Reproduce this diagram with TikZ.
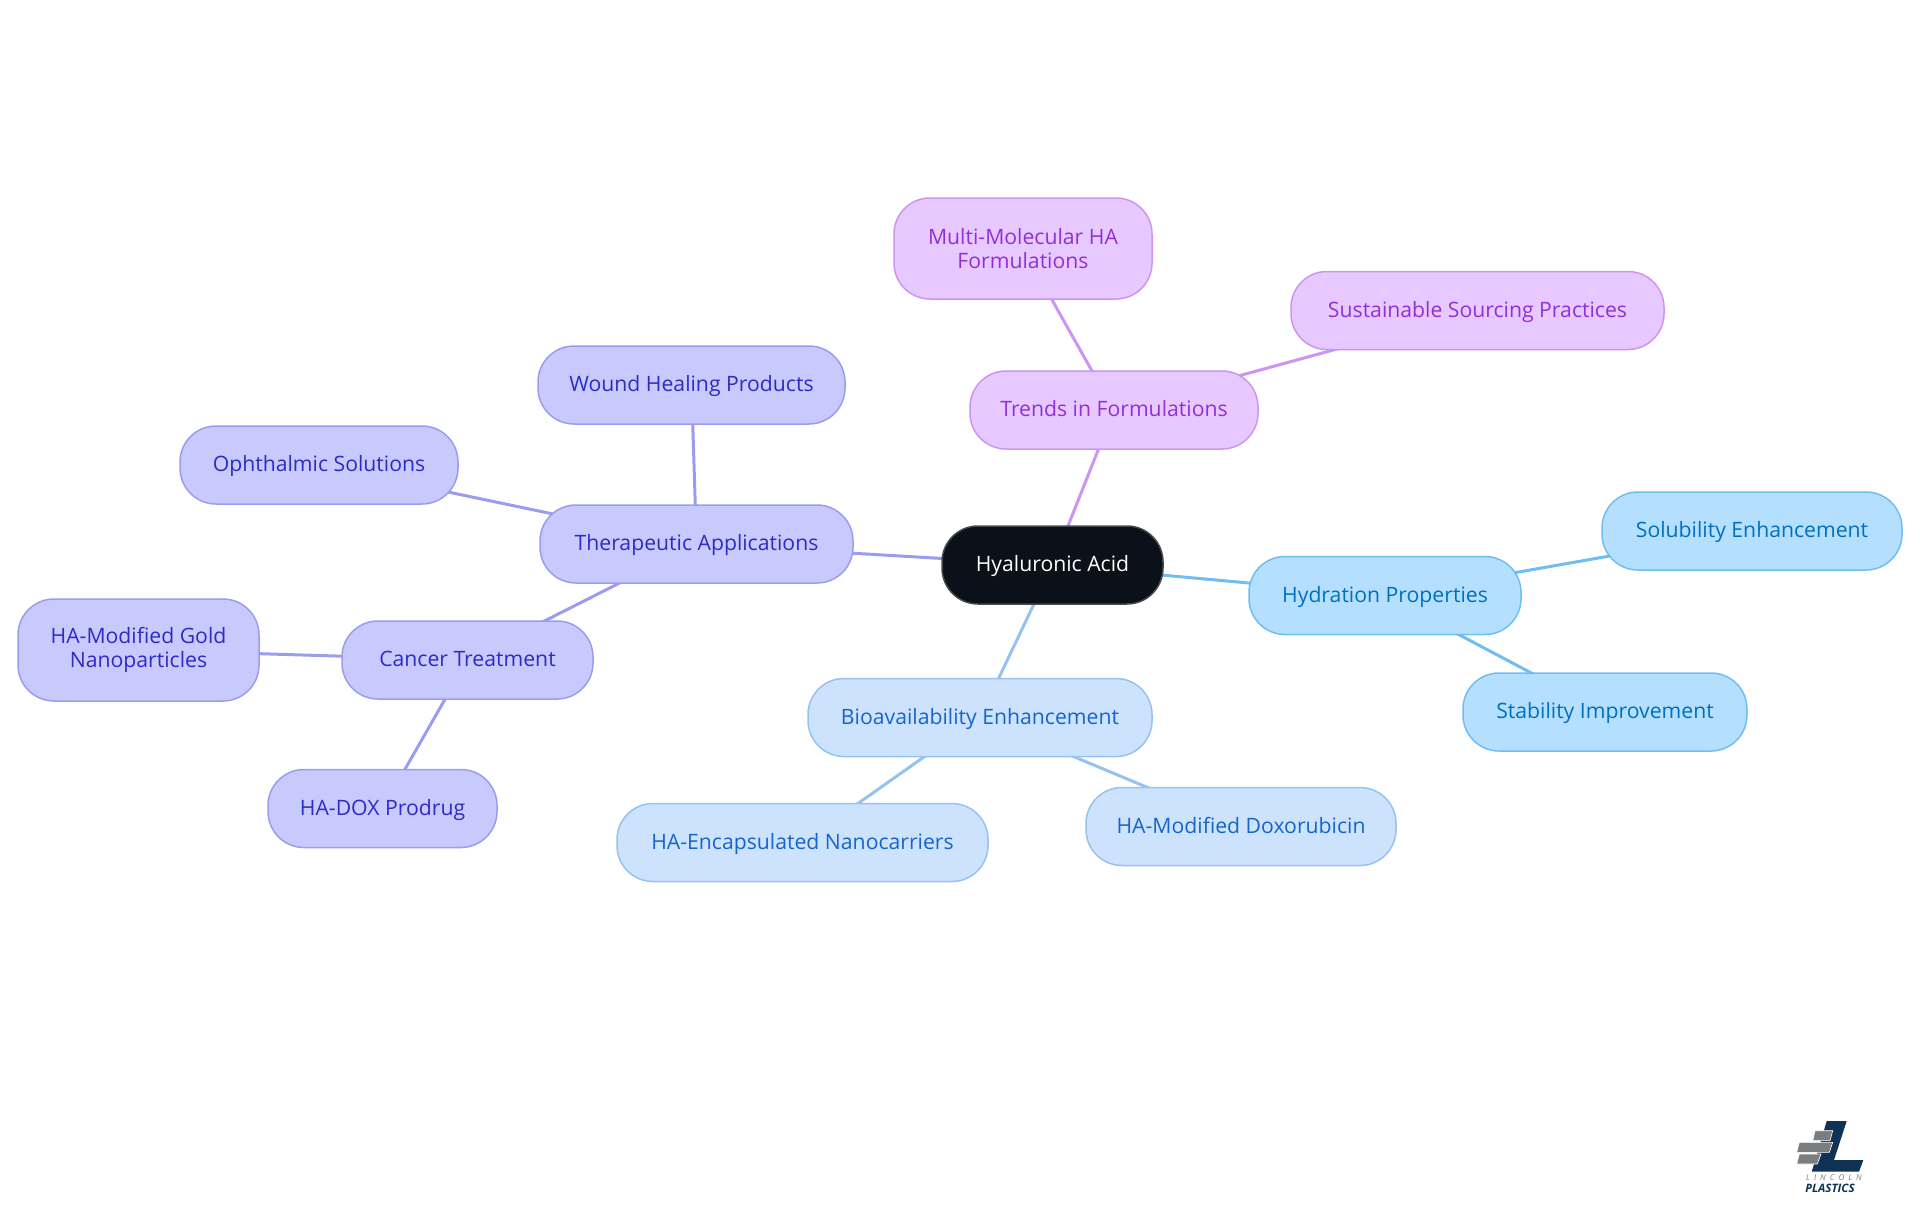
\documentclass[tikz,border=0pt]{standalone}
\usepackage{fontspec}
\setmainfont{Open Sans}
\usepackage{tikz}
\usetikzlibrary{
	backgrounds
}

\definecolor{rootfill}{HTML}{0B1119}
\definecolor{rootline}{HTML}{45494E}
\definecolor{therfill}{HTML}{C8C9FD}
\definecolor{therline}{HTML}{9A9CF0}
\definecolor{thertext}{HTML}{2E2BC6}
\definecolor{trendfill}{HTML}{E8C9FF}
\definecolor{trendline}{HTML}{CC95F2}
\definecolor{trendtext}{HTML}{9030D8}
\definecolor{hydrofill}{HTML}{B5DFFF}
\definecolor{hydroline}{HTML}{70BDF2}
\definecolor{hydrotext}{HTML}{0070C0}
\definecolor{biofill}{HTML}{CDE3FD}
\definecolor{bioline}{HTML}{95C2F0}
\definecolor{biotext}{HTML}{1565CC}
\definecolor{logonavy}{HTML}{0F3257}
\definecolor{logogrey}{HTML}{7B7D80}

\tikzset{
	topic/.style={rounded corners=18pt,draw,line width=.75pt,inner sep=0pt,minimum height=39pt,
		align=center,font=\fontsize{10.6}{12}\selectfont},
	oneline/.style={text height=9.5pt,text depth=2.8pt},
	rootnode/.style={topic,fill=rootfill,draw=rootline,text=white},
	thernode/.style={topic,fill=therfill,draw=therline,text=thertext},
	trendnode/.style={topic,fill=trendfill,draw=trendline,text=trendtext},
	hydronode/.style={topic,fill=hydrofill,draw=hydroline,text=hydrotext},
	bionode/.style={topic,fill=biofill,draw=bioline,text=biotext},
	link/.style={line width=1.5pt},
	brick/.style={fill=logogrey,draw=white,line width=.3pt}
}

\begin{document}
\begin{tikzpicture}[x=.5pt,y=-.5pt]
	\useasboundingbox (0,0) rectangle (1920,1215);

	\draw
		node[rootnode,oneline,minimum width=110.5pt]  (ha)   at (1052.5,565)  {Hyaluronic Acid}

		node[thernode,oneline,minimum width=156.5pt]  (ther) at (696.5,544)   {Therapeutic Applications}
		node[thernode,oneline,minimum width=153.5pt]  (wound) at (691.5,385)  {Wound Healing Products}
		node[thernode,oneline,minimum width=139pt]    (oph)  at (319,465)     {Ophthalmic Solutions}
		node[thernode,oneline,minimum width=125.5pt]  (canc) at (467.5,660)   {Cancer Treatment}
		node[thernode,minimum width=120.5pt,minimum height=51pt] (gold) at (138.5,650) {HA-Modified Gold\\Nanoparticles}
		node[thernode,oneline,minimum width=114.5pt]  (dox)  at (382.5,808.5) {HA-DOX Prodrug}

		node[trendnode,oneline,minimum width=144pt]   (trend) at (1114,410)   {Trends in Formulations}
		node[trendnode,minimum width=129pt,minimum height=50.5pt] (multi) at (1023,248.5) {Multi-Molecular HA\\Formulations}
		node[trendnode,oneline,minimum width=186.5pt] (sust) at (1477.5,310.5) {Sustainable Sourcing Practices}

		node[hydronode,oneline,minimum width=136pt]   (hydro) at (1385,595.5) {Hydration Properties}
		node[hydronode,oneline,minimum width=150pt]   (sol)  at (1752,531)    {Solubility Enhancement}
		node[hydronode,oneline,minimum width=142pt]   (stab) at (1605,712)    {Stability Improvement}

		node[bionode,oneline,minimum width=172pt]     (bio)  at (980,717.5)   {Bioavailability Enhancement}
		node[bionode,oneline,minimum width=185.5pt]   (enc)  at (802.5,842.5) {HA-Encapsulated Nanocarriers}
		node[bionode,oneline,minimum width=155pt]     (mdox) at (1241,826.5)  {HA-Modified Doxorubicin}
	;

	% links go behind the boxes
	\begin{scope}[on background layer]
		\draw[link,therline]
			(ha.center) edge (ther.center)
			(ther.center) edge (wound.center)
			(ther.center) edge (oph.center)
			(ther.center) edge (canc.center)
			(canc.center) edge (gold.center)
			(canc.center) edge (dox.center)
		;
		\draw[link,trendline]
			(ha.center) edge (trend.center)
			(trend.center) edge (multi.center)
			(trend.center) edge (sust.center)
		;
		\draw[link,hydroline]
			(ha.center) edge (hydro.center)
			(hydro.center) edge (sol.center)
			(hydro.center) edge (stab.center)
		;
		\draw[link,bioline]
			(ha.center) edge (bio.center)
			(bio.center) edge (enc.center)
			(bio.center) edge (mdox.center)
		;
	\end{scope}

	% logo
	\fill[logonavy] (1826.7,1121) -- (1846.7,1121) -- (1834,1160) -- (1863.3,1160) -- (1859,1171.7) -- (1811.7,1171.7) -- cycle;
	\draw[brick] (1815,1130.7) -- (1832.7,1130.7) -- (1830,1140.7) -- (1812.7,1140.7) -- cycle;
	\draw[brick] (1799.3,1142.3) -- (1832.7,1142.3) -- (1829.3,1152.3) -- (1796.7,1152.3) -- cycle;
	\draw[brick] (1799.3,1154) -- (1821,1154) -- (1817.3,1164) -- (1796.7,1164) -- cycle;
	\node[inner sep=0pt,text=logogrey,font=\fontsize{4}{4}\selectfont\itshape] (lincoln) at (1834,1178) {L\,\,\,I\,\,\,N\,\,\,C\,\,\,O\,\,\,L\,\,\,N};
	\node[inner sep=0pt,text=logonavy,font=\fontsize{5.8}{6}\selectfont\bfseries\itshape] (plastics) at (1830,1188.5) {PLASTICS};
\end{tikzpicture}
\end{document}
